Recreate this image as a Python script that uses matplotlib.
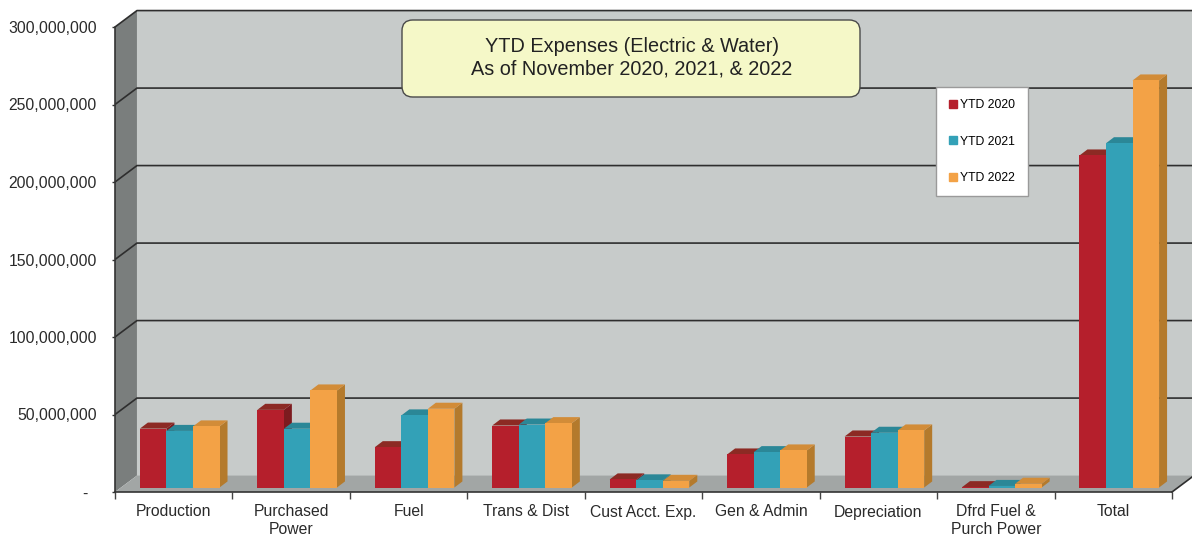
import numpy as np
import matplotlib
matplotlib.use('Agg')
import matplotlib.pyplot as plt
from matplotlib.patches import Polygon, FancyBboxPatch
from matplotlib.lines import Line2D
from matplotlib.ticker import FuncFormatter

plt.rcParams['font.family'] = ['Liberation Sans', 'DejaVu Sans']

# --- data (dollars) ---
categories = ['Production', 'Purchased\nPower', 'Fuel', 'Trans & Dist', 'Cust Acct. Exp.',
              'Gen & Admin', 'Depreciation', 'Dfrd Fuel &\nPurch Power', 'Total']
series_names = ['YTD 2020', 'YTD 2021', 'YTD 2022']
ytd_2020 = [38.0e6, 50.1e6, 26.0e6, 40.0e6, 5.2e6, 21.3e6, 32.9e6, 0.2e6, 214.2e6]
ytd_2021 = [36.5e6, 37.9e6, 46.5e6, 40.6e6, 4.6e6, 22.8e6, 35.3e6, 1.0e6, 222.1e6]
ytd_2022 = [39.4e6, 62.6e6, 50.8e6, 41.5e6, 4.3e6, 23.9e6, 36.8e6, 2.4e6, 262.6e6]
y_ticks = [0, 50e6, 100e6, 150e6, 200e6, 250e6, 300e6]

# front, top, side colours per series
front_cols = ['#b51f2c', '#33a1b7', '#f3a246']
top_cols = ['#8c2a24', '#2b8797', '#d28c38']
side_cols = ['#7c1b1f', '#227483', '#b47a2c']

# --- 3d look: offsets in data units ---
ymax = 300e6
n = len(categories)
dx, dy = 0.187, 10.6e6        # depth of the floor / side wall
ox, oy = 0.051, 2.9e6         # where the bar fronts sit inside the depth
bx, by = 0.068, 3.9e6         # bar depth
w = 0.226                     # single bar width

fig = plt.figure(figsize=(11.92, 5.41), dpi=100)
ax = fig.add_axes([115 / 1192, 49 / 541, 1057 / 1192, 465 / 541])
ax.set_xlim(0, n)
ax.set_ylim(0, ymax)


def poly(pts, color, z):
    ax.add_patch(Polygon(pts, closed=True, facecolor=color, edgecolor='none',
                         zorder=z, clip_on=False))


# walls and floor
poly([(dx, dy), (n + dx, dy), (n + dx, ymax + dy), (dx, ymax + dy)], '#c7cbca', 0)
poly([(0, 0), (dx, dy), (dx, ymax + dy), (0, ymax)], '#7a7e7d', 0.5)
poly([(0, 0), (n, 0), (n + dx, dy), (dx, dy)], '#a2a6a5', 0.5)

# gridlines across side wall and back wall
for v in y_ticks[1:]:
    ax.plot([0, dx, n + dx], [v, v + dy, v + dy], color='#2e2e2e', lw=1.2,
            zorder=1, clip_on=False, solid_capstyle='butt')
ax.plot([n, n + dx], [0, dy], color='#2e2e2e', lw=1.2, zorder=1, clip_on=False)

# bars
values = [ytd_2020, ytd_2021, ytd_2022]
for i in range(n):
    for j, vals in enumerate(values):
        v = vals[i]
        x0 = i + 0.5 - 1.5 * w + j * w + ox
        y0 = oy
        z = 3 + i * 0.5 + j * 0.1
        poly([(x0 + w, y0), (x0 + w + bx, y0 + by), (x0 + w + bx, y0 + v + by), (x0 + w, y0 + v)],
             side_cols[j], z)
        poly([(x0, y0 + v), (x0 + w, y0 + v), (x0 + w + bx, y0 + v + by), (x0 + bx, y0 + v + by)],
             top_cols[j], z)
        poly([(x0, y0), (x0 + w, y0), (x0 + w, y0 + v), (x0, y0 + v)], front_cols[j], z + 0.01)

# axes styling
for s in ['top', 'right']:
    ax.spines[s].set_visible(False)
for s in ['left', 'bottom']:
    ax.spines[s].set_color('#333333')
    ax.spines[s].set_linewidth(1.2)
    ax.spines[s].set_zorder(2)

ax.set_yticks(y_ticks)
ax.yaxis.set_major_formatter(FuncFormatter(lambda v, p: '-  ' if v == 0 else f'{v:,.0f}'))
ax.tick_params(axis='y', length=2.5, width=1, color='#333333', pad=10.5,
               labelsize=11.3, labelcolor='#2a2a2a')

ax.set_xticks(np.arange(n) + 0.5)
ax.set_xticklabels(categories)
ax.set_xticks(np.arange(n + 1), minor=True)
ax.tick_params(axis='x', which='major', length=0, pad=9, labelsize=11.3, labelcolor='#2a2a2a')
ax.tick_params(axis='x', which='minor', length=5, width=1, color='#444444')

# title box
fig.patches.append(FancyBboxPatch((402 / 1192, 444 / 541), 458 / 1192, 77 / 541,
                                  boxstyle='round,pad=0,rounding_size=0.009',
                                  mutation_aspect=2.2, transform=fig.transFigure,
                                  facecolor='#f5f8c8', edgecolor='#4a4a4a', lw=1, zorder=5))
fig.text(632 / 1192, 1 - 58 / 541, 'YTD Expenses (Electric & Water)\nAs of November 2020, 2021, & 2022',
         ha='center', va='center', fontsize=14.3, color='#222222', linespacing=1.2, zorder=6)

# legend
handles = [Line2D([], [], marker='s', linestyle='none', markersize=5.5,
                  markerfacecolor=c, markeredgecolor=c) for c in front_cols]
leg = fig.legend(handles, series_names, loc='upper left', bbox_to_anchor=(936 / 1192, 1 - 87 / 541),
                 fontsize=8.8, frameon=True, fancybox=False, framealpha=1, edgecolor='#9a9a9a',
                 labelspacing=2.0, handlelength=0.7, handletextpad=0.3, borderpad=1.0,
                 borderaxespad=0)
leg.get_frame().set_linewidth(1)

fig.savefig('out.png', dpi=100)
